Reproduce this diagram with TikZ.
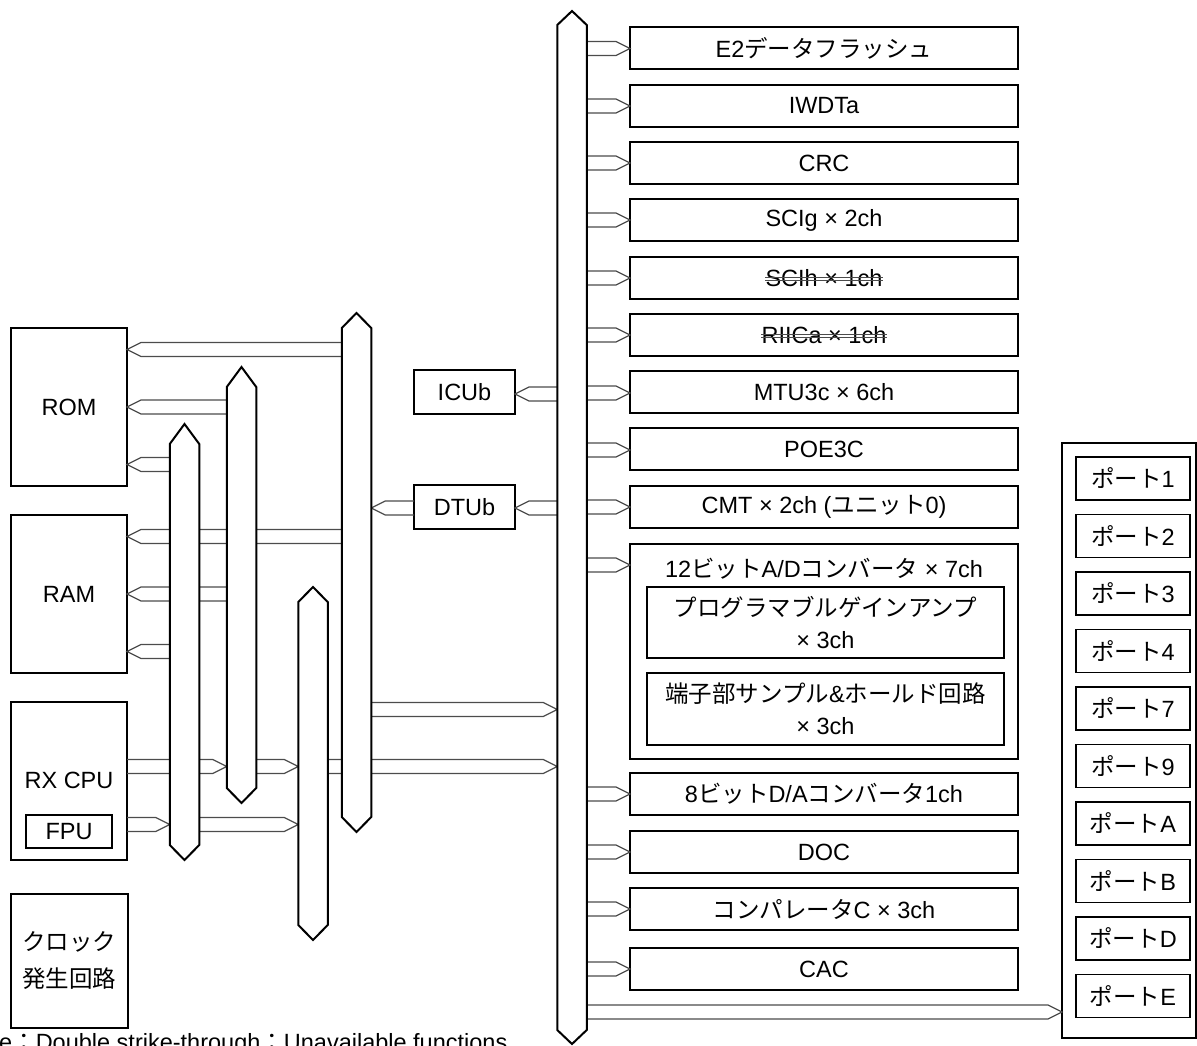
\documentclass[tikz,border=0pt]{standalone}
\usepackage{fontspec}
\setmainfont{Liberation Sans}
\newfontfamily\jpfont{Noto Sans CJK JP}
\newcommand{\jp}[1]{{\jpfont #1}}
\usetikzlibrary{calc}
\tikzset{
  box/.style={draw=black, line width=1.3pt, fill=white, inner sep=0pt, outer sep=0pt,
    font=\fontsize{23.5pt}{32pt}\selectfont, align=center},
  rbox/.style={box, minimum width=388pt, minimum height=42pt, anchor=north west},
  txt/.style={inner sep=0pt, font=\fontsize{23.5pt}{32pt}\selectfont},
  arr/.style={draw=black!70, line width=1.2pt, line join=miter},
  busline/.style={draw=black, line width=2pt, fill=white, line join=miter},
  busn/.style={inner sep=0pt, outer sep=0pt, minimum width=29.5pt},
  strike/.style={draw=black!70, line width=0.9pt}
}
\newcommand{\busnode}[4]{\node[busn, minimum height={(#4-#3)*1pt}] (#1) at (#2,{(#3+#4)/2}) {};}
\newcommand{\busdraw}[4]{\draw[busline] (#1.north west) -- (#2,#3) -- (#1.north east) -- (#1.south east) -- (#2,#4) -- (#1.south west) -- cycle;}
\newcommand{\fatR}[3]{\draw[arr] let \p1=(#1), \p2=(#2), \p3=(0,#3) in (\x1,\y3+7pt) -- (\x2-14pt,\y3+7pt) -- (\x2,\y3) -- (\x2-14pt,\y3-7pt) -- (\x1,\y3-7pt);}
\newcommand{\fatL}[3]{\draw[arr] let \p1=(#1), \p2=(#2), \p3=(0,#3) in (\x1,\y3+7pt) -- (\x2+14pt,\y3+7pt) -- (\x2,\y3) -- (\x2+14pt,\y3-7pt) -- (\x1,\y3-7pt);}
\begin{document}
\begin{tikzpicture}[x=1pt,y=-1pt]
\useasboundingbox (0,0) rectangle (1197,1045);
% bus placeholders
\busnode{mbus}{572}{25}{1030}
\busnode{busA}{184.5}{444}{845}
\busnode{busB}{241.5}{387}{788}
\busnode{busC}{356.5}{328}{817}
\busnode{busD}{313}{602}{925}
% right-hand peripherals
\node[rbox] (e2) at (630,27) {E2\jp{データフラッシュ}};
\node[rbox] (iwdt) at (630,85) {IWDTa};
\node[rbox] (crc) at (630,142) {CRC};
\node[rbox] (scig) at (630,199) {SCIg × 2ch};
\node[rbox] (scih) at (630,257) {};
\node[txt] (scihT) at (scih) {SCIh × 1ch};
\node[rbox] (riic) at (630,314) {};
\node[txt] (riicT) at (riic) {RIICa × 1ch};
\node[rbox] (mtu) at (630,371) {MTU3c × 6ch};
\node[rbox] (poe) at (630,428) {POE3C};
\node[rbox] (cmt) at (630,486) {CMT × 2ch (\jp{ユニット}0)};
\node[box, minimum width=388pt, minimum height=215pt, anchor=north west] (ad) at (630,544) {};
\node[txt] (adT) at (824,569) {12\jp{ビット}A/D\jp{コンバータ} × 7ch};
\node[box, minimum width=357pt, minimum height=71pt, anchor=north west] (pga) at (647,587) {\jp{プログラマブルゲインアンプ}\\× 3ch};
\node[box, minimum width=357pt, minimum height=72pt, anchor=north west] (sh) at (647,673) {\jp{端子部サンプル}\&\jp{ホールド回路}\\× 3ch};
\node[rbox] (da) at (630,773) {8\jp{ビット}D/A\jp{コンバータ}1ch};
\node[rbox] (doc) at (630,831) {DOC};
\node[rbox] (comp) at (630,888) {\jp{コンパレータ}C × 3ch};
\node[rbox] (cac) at (630,948) {CAC};
% ports
\node[box, minimum width=134pt, minimum height=595pt, anchor=north west] (ports) at (1062,443) {};
\foreach \p [count=\i from 0] in {1,2,3,4,7,9,A,B,D,E}
  \node[box, minimum width=114pt, minimum height=43pt, anchor=north west] (p\p) at (1076,{457+57.5*\i}) {\jp{ポート}\p};
% left blocks
\node[box, minimum width=116pt, minimum height=158pt, anchor=north west] (rom) at (11,328) {ROM};
\node[box, minimum width=116pt, minimum height=158pt, anchor=north west] (ram) at (11,515) {RAM};
\node[box, minimum width=116pt, minimum height=158pt, anchor=north west] (cpu) at (11,702) {};
\node[txt] (cpuT) at (69,780) {RX CPU};
\node[box, minimum width=86pt, minimum height=33pt, anchor=north west] (fpu) at (26,815) {FPU};
\node[box, minimum width=117pt, minimum height=134pt, anchor=north west, font=\fontsize{23.5pt}{37pt}\selectfont] (clk) at (11,894) {\jp{クロック}\\\jp{発生回路}};
\node[box, minimum width=101pt, minimum height=44pt, anchor=north west] (icu) at (414,370) {ICUb};
\node[box, minimum width=101pt, minimum height=44pt, anchor=north west] (dtu) at (414,485) {DTUb};
% strike-through
\draw[strike] ([yshift=5.5pt]scihT.base west) -- ([yshift=5.5pt]scihT.base east);
\draw[strike] ([yshift=8.5pt]scihT.base west) -- ([yshift=8.5pt]scihT.base east);
\draw[strike] ([yshift=5.5pt]riicT.base west) -- ([yshift=5.5pt]riicT.base east);
\draw[strike] ([yshift=8.5pt]riicT.base west) -- ([yshift=8.5pt]riicT.base east);
% arrows: main bus to peripherals
\fatR{mbus.east}{e2.west}{48.5}
\fatR{mbus.east}{iwdt.west}{106}
\fatR{mbus.east}{crc.west}{163}
\fatR{mbus.east}{scig.west}{220}
\fatR{mbus.east}{scih.west}{278}
\fatR{mbus.east}{riic.west}{335}
\fatR{mbus.east}{mtu.west}{393}
\fatR{mbus.east}{poe.west}{450}
\fatR{mbus.east}{cmt.west}{507}
\fatR{mbus.east}{ad.west}{565}
\fatR{mbus.east}{da.west}{794}
\fatR{mbus.east}{doc.west}{852}
\fatR{mbus.east}{comp.west}{909}
\fatR{mbus.east}{cac.west}{969}
\fatR{mbus.east}{ports.west}{1012}
% arrows: left side
\fatL{mbus.west}{icu.east}{394}
\fatL{mbus.west}{dtu.east}{508}
\fatL{dtu.west}{busC.east}{508}
\fatL{busC.west}{rom.east}{349.5}
\fatL{busB.west}{rom.east}{407}
\fatL{busA.west}{rom.east}{464.5}
\fatL{busC.west}{ram.east}{536.5}
\fatL{busB.west}{ram.east}{594}
\fatL{busA.west}{ram.east}{651.5}
\fatR{busC.east}{mbus.west}{709.5}
\fatR{cpu.east}{busB.west}{766.5}
\fatR{busB.east}{busD.west}{766.5}
\fatR{busD.east}{mbus.west}{766.5}
\fatR{cpu.east}{busA.west}{824.5}
\fatR{busA.east}{busD.west}{824.5}
% buses on top
\busdraw{mbus}{572}{11}{1044}
\busdraw{busA}{184.5}{424}{860}
\busdraw{busB}{241.5}{367}{803}
\busdraw{busC}{356.5}{313}{832}
\busdraw{busD}{313}{587}{940}
% note
\node[txt, anchor=base west] (note) at (-1,1050) {e\jp{：}Double strike-through\jp{：}Unavailable functions};
\end{tikzpicture}
\end{document}
